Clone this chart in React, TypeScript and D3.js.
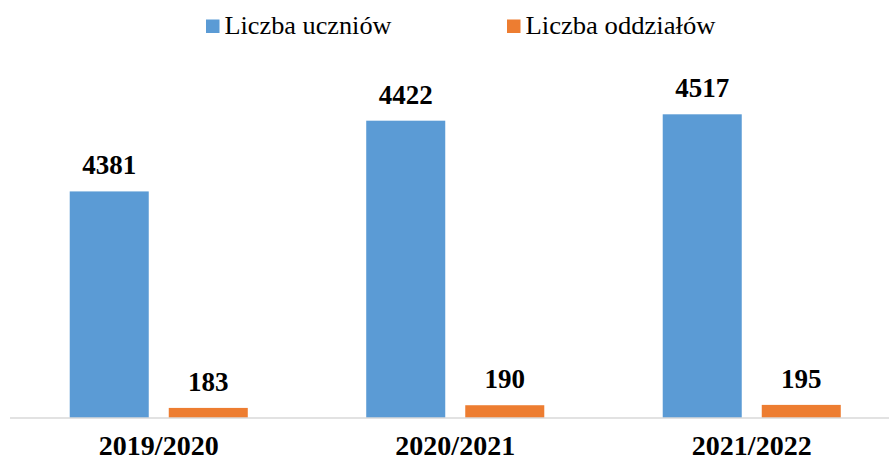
import React from 'react';
import * as d3 from 'd3';

// categories and series
const years = ['2019/2020', '2020/2021', '2021/2022'];
const seriesNames = ['Liczba uczniów', 'Liczba oddziałów'];
const seriesColors = ['#5B9BD5', '#ED7D31'];

// bar lengths (the 2019/2020 bars are drawn shorter than their labels)
const uczniowie = [3370, 4422, 4517];
const oddzialy = [150, 190, 195];

// data labels as printed
const uczniowieLabels = ['4381', '4422', '4517'];
const oddzialyLabels = ['183', '190', '195'];

const W = 889;
const H = 461;
const baseY = 418;
const font = "'Liberation Serif', 'Times New Roman', Times, serif";
const legendFont = "'Liberation Serif', 'DejaVu Serif', serif";

function App() {
    const x0 = d3.scaleBand<string>()
        .domain(years)
        .range([10.5, 900])
        .paddingInner(0)
        .paddingOuter(0);

    const x1 = d3.scaleBand<number>()
        .domain([0, 1])
        .range([0, x0.bandwidth()])
        .paddingInner(0.202)
        .paddingOuter(0.598);

    const y = d3.scaleLinear()
        .domain([0, 4700])
        .range([baseY, 102]);

    const values = [uczniowie, oddzialy];
    const labels = [uczniowieLabels, oddzialyLabels];
    const legendX = [206, 507];
    const legendW = [167, 190];

    return (
        <svg width={W} height={H} style={{ position: 'absolute', left: 0, top: 0, background: '#fff' }}>
            {/* legend */}
            {seriesNames.map((name, s) => (
                <g key={name}>
                    <rect x={legendX[s]} y={19.5} width={13.5} height={13.5} fill={seriesColors[s]} />
                    <text
                        x={legendX[s] + 18.5}
                        y={34}
                        textLength={legendW[s]}
                        lengthAdjust="spacingAndGlyphs"
                        style={{ fontFamily: legendFont, fontWeight: 400, fontSize: 26 }}
                        fill="#000"
                    >
                        {name}
                    </text>
                </g>
            ))}

            {/* bars */}
            {years.map((yr, i) => (
                <g key={yr} transform={`translate(${x0(yr)},0)`}>
                    {values.map((vals, s) => (
                        <rect
                            key={s}
                            x={x1(s)}
                            y={y(vals[i])}
                            width={x1.bandwidth()}
                            height={baseY - y(vals[i])}
                            fill={seriesColors[s]}
                        />
                    ))}
                    {values.map((vals, s) => (
                        <text
                            key={'l' + s}
                            x={(x1(s) as number) + x1.bandwidth() / 2}
                            y={y(vals[i]) - 17}
                            textAnchor="middle"
                            style={{ fontFamily: font, fontWeight: 'bold', fontSize: 27 }}
                            fill="#000"
                        >
                            {labels[s][i]}
                        </text>
                    ))}
                </g>
            ))}

            {/* x axis */}
            <line x1={10} x2={W} y1={baseY} y2={baseY} stroke="#d9d9d9" strokeWidth={1.5} />
            {years.map(yr => (
                <text
                    key={yr}
                    x={(x0(yr) as number) + x0.bandwidth() / 2}
                    y={455}
                    textAnchor="middle"
                    style={{ fontFamily: font, fontWeight: 'bold', fontSize: 28 }}
                    fill="#000"
                >
                    {yr}
                </text>
            ))}
        </svg>
    );
}

export default App;
